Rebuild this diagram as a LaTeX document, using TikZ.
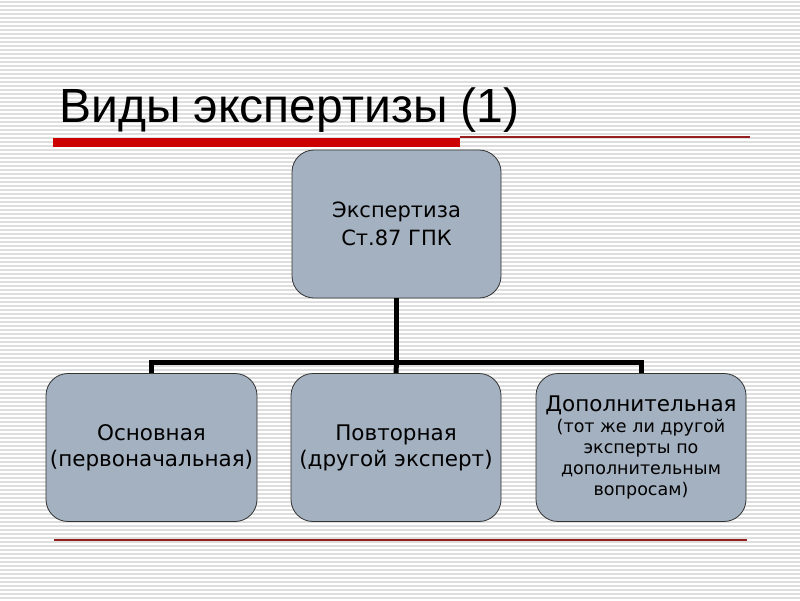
\documentclass[tikz,border=0pt]{standalone}
\usepackage{fontspec}
\setmainfont{DejaVu Sans}
\newfontfamily\titlefont{Liberation Sans}
\newlength{\du}
\setlength{\du}{1pt}
\definecolor{boxfill}{RGB}{164,177,192}
\definecolor{ruleline}{RGB}{222,222,222}
\definecolor{barred}{RGB}{204,0,0}
\definecolor{thinred}{RGB}{150,30,30}

\begin{document}
\begin{tikzpicture}[
  kind/.style={draw=black!80, line width=0.8\du, fill=boxfill, rounded corners=22\du,
    minimum height=148\du, align=center, inner sep=2\du},
  conn/.style={draw=black, line width=5\du, line join=miter}
]
\pgftransformyscale{-1.000000}
\useasboundingbox (0\du,0\du) rectangle (800\du,600\du);
\fill[white] (0\du,0\du) rectangle (800\du,600\du);
% background ruling
\foreach \y in {2,6,...,598}
  \draw[ruleline, line width=1.6\du] (0\du,\y\du) -- (800\du,\y\du);
% title
\node[anchor=base west, inner sep=0pt] (title) at (59\du,122\du)
  {\titlefont\fontsize{48}{52}\selectfont Виды экспертизы (1)};
\fill[barred] (53\du,137.5\du) rectangle (460\du,147\du);
\draw[thinred, line width=1.2\du] (460\du,137\du) -- (750\du,137\du);
\draw[thinred, line width=1.2\du] (54\du,540\du) -- (747\du,540\du);
% boxes
\node[kind, minimum width=209\du, font=\fontsize{21}{28}\selectfont] (top) at (396.5\du,224\du)
  {Экспертиза\\ Ст.87 ГПК};
\node[kind, minimum width=211\du, font=\fontsize{21.5}{26}\selectfont] (basic) at (151.5\du,447.5\du)
  {Основная\\ (первоначальная)};
\node[kind, minimum width=210\du, font=\fontsize{21.5}{26}\selectfont] (repeat) at (396\du,447.5\du)
  {Повторная\\ (другой эксперт)};
\node[kind, minimum width=210\du, font=\fontsize{17.5}{21}\selectfont] (extra) at (641\du,447.5\du)
  {{\fontsize{21.5}{23}\selectfont Дополнительная}\\ (тот же ли другой\\ эксперты по\\ дополнительным\\ вопросам)};
% connectors
\coordinate (bus) at (396.5\du,362\du);
\draw[conn] (top.south) -- (bus);
\draw[conn] (basic.north) |- (bus) -| (extra.north);
\draw[conn] (bus) -- (repeat.north);
\end{tikzpicture}
\end{document}
